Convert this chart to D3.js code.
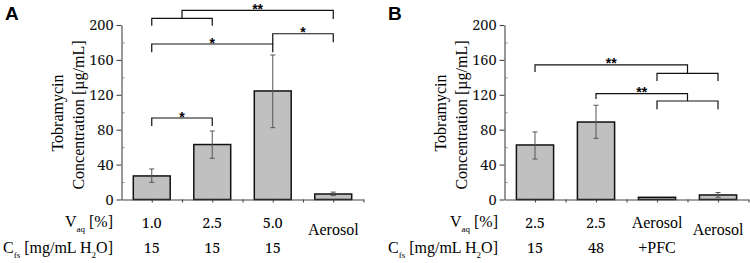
<!DOCTYPE html>
<html>
<head>
<meta charset="utf-8">
<script src="https://cdn.jsdelivr.net/npm/d3@7"></script>
<style>
  body { margin: 0; background: #fff; }
  svg text { font-family: "Liberation Serif", "Times New Roman", serif; }
</style>
</head>
<body>
<svg id="chart" width="750" height="263"></svg>
<script>
// ---- panel A ----
var aVaq = ["1.0", "2.5", "5.0", "Aerosol"];
var aCfs = ["15", "15", "15", null];
var aMean = [27, 63, 124.4, 6.3];
var aLow = [19.7, 47.2, 82.3, 4.5];
var aHigh = [35, 78.5, 165.6, 8.5];
// brackets: from category a to b (fractional = between), line value, leg ends, stars
var aBrackets = [
  {a: 0, b: 1, y: 207.7, la: 199.2, lb: 199.2, star: ""},
  {a: 0.5, b: 3, y: 216.8, la: 207.7, lb: 206.9, star: "**"},
  {a: 0, b: 2, y: 178.2, la: 168.7, lb: 168.7, star: "*"},
  {a: 2, b: 3, y: 190, la: 178.2, lb: 180.2, star: "*"},
  {a: 0, b: 1, y: 93.4, la: 84.2, lb: 84.2, star: "*"}
];

// ---- panel B ----
var bVaq = ["2.5", "2.5", "Aerosol", "Aerosol"];
var bCfs = ["15", "48", "+PFC", null];
var bMean = [62.5, 88.8, 2.5, 5.2];
var bLow = [46.4, 70.1, null, 2.5];
var bHigh = [77.4, 108, null, 8];
var bBrackets = [
  {a: 2, b: 3, y: 144.6, la: 135.8, lb: 135.8, star: ""},
  {a: 0, b: 2.5, y: 154.2, la: 146.1, lb: 144.6, star: "**"},
  {a: 2, b: 3, y: 112.9, la: 103.4, lb: 103.4, star: ""},
  {a: 1, b: 2.5, y: 121.3, la: 115.2, lb: 112.9, star: "**"}
];

var yTicks = [0, 40, 80, 120, 160, 200];
var yMinor = [20, 60, 100, 140, 180];

var serif = "'Liberation Serif', 'Times New Roman', serif";
var numFont = "'Noto Serif', 'DejaVu Serif', serif"; // digits with serifs
var sans = "'Liberation Sans', Arial, sans-serif";
var svg = d3.select("#chart");

function isNum(s) { return /^[\d.]+$/.test(s); }

function drawPanel(p) {
	var n = p.vaq.length;
	var x = d3.scaleLinear().domain([-0.5, n - 0.5]).range([p.left, p.right]);
	var y = d3.scaleLinear().domain([0, 200]).range([199.5, 25]);
	var bw = (x(1) - x(0)) * 0.61;
	var g = svg.append("g");

	// panel letter
	g.append("text")
		.attr("x", p.letterX).attr("y", 20)
		.style("font-family", sans)
		.style("font-weight", "bold").style("font-size", "19px")
		.text(p.letter);

	// bars
	g.selectAll("rect.bar").data(p.mean).enter().append("rect")
		.attr("class", "bar")
		.attr("x", function (d, i) { return x(i) - bw / 2; })
		.attr("y", function (d) { return y(d); })
		.attr("width", bw)
		.attr("height", function (d) { return y(0) - y(d); })
		.attr("fill", "#c0c0c0")
		.attr("stroke", "#111")
		.attr("stroke-width", 1.5);

	// error bars
	var err = d3.range(n).filter(function (i) { return p.low[i] != null; });
	var eg = g.selectAll("g.err").data(err).enter().append("g")
		.attr("stroke", "#555").attr("stroke-width", 1);
	eg.append("line")
		.attr("x1", function (i) { return x(i); }).attr("x2", function (i) { return x(i); })
		.attr("y1", function (i) { return y(p.low[i]); }).attr("y2", function (i) { return y(p.high[i]); });
	eg.append("line")
		.attr("x1", function (i) { return x(i) - 2.5; }).attr("x2", function (i) { return x(i) + 2.5; })
		.attr("y1", function (i) { return y(p.low[i]); }).attr("y2", function (i) { return y(p.low[i]); });
	eg.append("line")
		.attr("x1", function (i) { return x(i) - 2.5; }).attr("x2", function (i) { return x(i) + 2.5; })
		.attr("y1", function (i) { return y(p.high[i]); }).attr("y2", function (i) { return y(p.high[i]); });

	// y axis
	var ya = g.append("g")
		.attr("transform", "translate(" + p.left + ",0)")
		.call(d3.axisLeft(y).tickValues(yTicks).tickSize(5).tickSizeOuter(0).tickPadding(3));
	ya.selectAll("text").style("font-family", numFont).style("font-size", "14.5px").attr("fill", "#111");
	ya.selectAll("path, line").attr("stroke", "#444").attr("stroke-width", 1.1);
	var ym = g.append("g")
		.attr("transform", "translate(" + p.left + ",0)")
		.call(d3.axisLeft(y).tickValues(yMinor).tickSize(-3).tickFormat(""));
	ym.select(".domain").remove();
	ym.selectAll("line").attr("stroke", "#888");

	// x axis
	var xTicks = d3.range(0, n - 0.5 + 0.01, 0.5);
	var xa = g.append("g")
		.attr("transform", "translate(0," + y(0) + ")")
		.call(d3.axisBottom(x).tickValues(xTicks).tickSize(3).tickSizeOuter(0).tickFormat(""));
	xa.selectAll("path, line").attr("stroke", "#444").attr("stroke-width", 1.1);

	// y label
	g.append("text")
		.attr("transform", "translate(" + (p.left - 59) + ",113) rotate(-90)")
		.attr("text-anchor", "middle").style("font-size", "16px")
		.text("Tobramycin");
	g.append("text")
		.attr("transform", "translate(" + (p.left - 37.5) + ",115) rotate(-90)")
		.attr("text-anchor", "middle").style("font-size", "16px")
		.text("Concentration [\u00b5g/mL]");

	// brackets
	var bg = g.selectAll("g.br").data(p.brackets).enter().append("g");
	bg.append("path")
		.attr("fill", "none").attr("stroke", "#111").attr("stroke-width", 1.2)
		.attr("d", function (d) {
			return "M" + x(d.a) + "," + y(d.la) + "V" + y(d.y) + "H" + x(d.b) + "V" + y(d.lb);
		});
	bg.append("text")
		.attr("x", function (d) { return x((d.a + d.b) / 2); })
		.attr("y", function (d) { return y(d.y) + 3.5; })
		.attr("text-anchor", "middle")
		.style("font-family", sans)
		.style("font-size", "14px").style("font-weight", "bold")
		.text(function (d) { return d.star; });

	// row labels
	var r1 = g.append("text").attr("x", p.rowX).attr("y", 227)
		.attr("text-anchor", "end").style("font-size", "16px");
	r1.append("tspan").text("V");
	r1.append("tspan").attr("dy", 5).style("font-size", "9px").text("aq");
	r1.append("tspan").attr("dy", -5).text("\u00a0[%]");
	var r2 = g.append("text").attr("x", p.rowX).attr("y", 253)
		.attr("text-anchor", "end").style("font-size", "16px");
	r2.append("tspan").text("C");
	r2.append("tspan").attr("dy", 5).style("font-size", "9px").text("fs");
	r2.append("tspan").attr("dy", -5).text("\u00a0[mg/mL H");
	r2.append("tspan").attr("dy", 5).style("font-size", "9px").text("2");
	r2.append("tspan").attr("dy", -5).text("O]");

	// category labels
	g.selectAll("text.vaq").data(p.vaq).enter().append("text")
		.attr("class", "vaq")
		.attr("x", function (d, i) { return x(i); })
		.attr("y", function (d, i) { return p.cfs[i] == null ? 235 : 228; })
		.attr("text-anchor", "middle")
		.style("font-family", function (d) { return isNum(d) ? numFont : serif; })
		.style("font-size", function (d) { return isNum(d) ? "14.5px" : "16px"; })
		.text(function (d) { return d; });
	g.selectAll("text.cfs").data(p.cfs).enter().append("text")
		.attr("class", "cfs")
		.attr("x", function (d, i) { return x(i); })
		.attr("y", 253)
		.attr("text-anchor", "middle")
		.style("font-family", function (d) { return d != null && isNum(d) ? numFont : serif; })
		.style("font-size", function (d) { return d != null && isNum(d) ? "14.5px" : "16px"; })
		.text(function (d) { return d == null ? "" : d; });
}

drawPanel({letter: "A", letterX: 5, left: 121.5, right: 363.5, rowX: 113,
	vaq: aVaq, cfs: aCfs, mean: aMean, low: aLow, high: aHigh, brackets: aBrackets});
drawPanel({letter: "B", letterX: 388, left: 504.5, right: 748.5, rowX: 498,
	vaq: bVaq, cfs: bCfs, mean: bMean, low: bLow, high: bHigh, brackets: bBrackets});
</script>
</body>
</html>
